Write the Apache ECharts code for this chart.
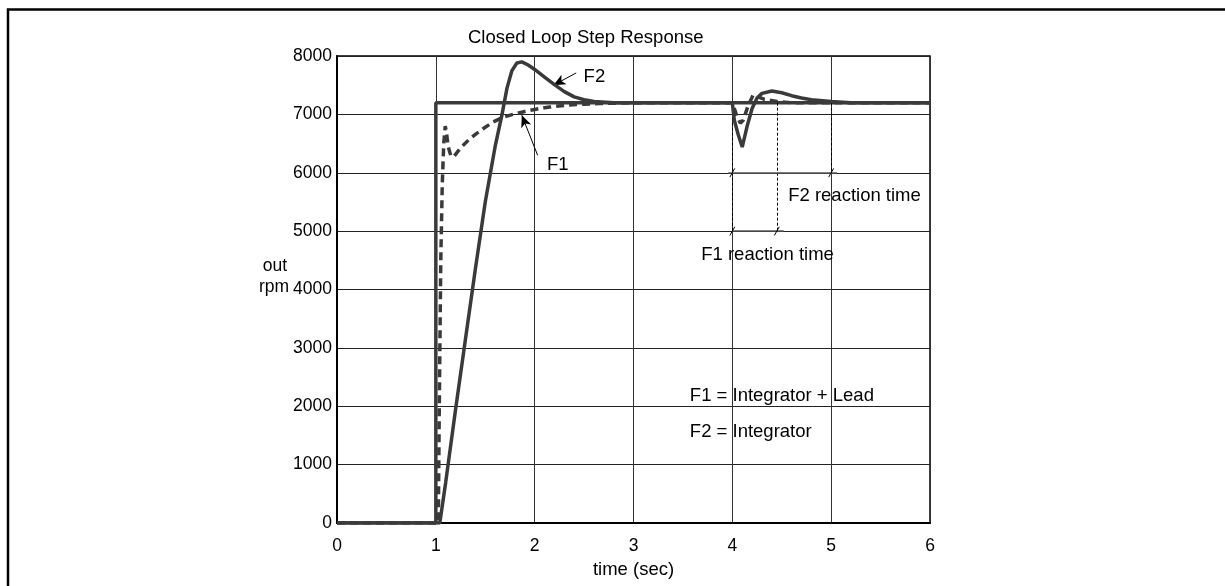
<!DOCTYPE html>
<html>
<head>
<meta charset="utf-8">
<script src="https://cdn.jsdelivr.net/npm/echarts@6/dist/echarts.min.js"></script>
<style>
  html, body {margin:0; padding:0; background:#fff;}
  #chart {width:1225px; height:586px;}
</style>
</head>
<body>
<div id="chart"></div>
<script>
// step command
const stepRef = [[0, 0], [1, 0], [1, 7200], [6, 7200]];
// F1 = Integrator + Lead (dashed)
const respF1 = [[0, 0], [1, 0], [1.025, 0], [1.035, 2000], [1.05, 4500], [1.065, 5800], [1.08, 6500], [1.095, 6800],
  [1.105, 6720], [1.125, 6450], [1.15, 6300], [1.18, 6270], [1.22, 6360], [1.26, 6440], [1.33, 6560], [1.41, 6670],
  [1.5, 6780], [1.58, 6870], [1.68, 6950], [1.78, 7000], [1.9, 7050], [2.0, 7085], [2.15, 7125], [2.33, 7158],
  [2.5, 7175], [2.66, 7186], [2.93, 7195], [3.2, 7200], [4.0, 7200], [4.04, 7000], [4.08, 6850], [4.11, 6900],
  [4.16, 7150], [4.21, 7330], [4.26, 7300], [4.32, 7260], [4.45, 7220], [4.6, 7200], [6, 7200]];
// F2 = Integrator (solid)
const respF2 = [[0, 0], [1, 0], [1.04, 0], [1.1, 700], [1.2, 1950], [1.3, 3150], [1.4, 4350], [1.5, 5500],
  [1.6, 6450], [1.67, 7000], [1.72, 7450], [1.77, 7750], [1.82, 7880], [1.87, 7900], [1.93, 7850], [2.0, 7770],
  [2.1, 7640], [2.2, 7510], [2.3, 7390], [2.4, 7300], [2.5, 7250], [2.6, 7220], [2.8, 7200], [4.0, 7200], [4.02, 6900],
  [4.06, 6650], [4.1, 6440], [4.15, 6800], [4.2, 7100], [4.25, 7280], [4.3, 7360], [4.4, 7400], [4.5, 7370],
  [4.6, 7320], [4.7, 7280], [4.8, 7250], [5.0, 7220], [5.2, 7200], [6, 7200]];

// annotations
const arrowF2 = [[2.42, 7710], [2.19, 7500]];
const arrowF1 = [[2.03, 6300], [1.87, 6985]];
const reactionV = [[[4, 7200], [4, 5000]], [[4.45, 7200], [4.45, 5000]], [[5, 7200], [5, 6000]]];
const reactionH = [[[3.96, 6000], [5.06, 6000]], [[4.0, 5000], [4.52, 5000]]];
const slashes = [[4, 6000], [5, 6000], [4, 5000], [4.45, 5000]];
const notes = [
  {text: 'F2', at: [2.49, 7640]},
  {text: 'F1', at: [2.12, 6130]},
  {text: 'F2 reaction time', at: [4.56, 5600]},
  {text: 'F1 reaction time', at: [3.68, 4600]},
  {text: 'F1 = Integrator + Lead', at: [3.565, 2175]},
  {text: 'F2 = Integrator', at: [3.565, 1553]}
];

const FONT = '"Liberation Sans", Arial, sans-serif';
const LINE = '#3a3a3a';

let markLines = [];
markLines.push([{coord: arrowF2[0]}, {coord: arrowF2[1], symbol: 'arrow', symbolSize: [8, 12]}]);
markLines.push([{coord: arrowF1[0]}, {coord: arrowF1[1], symbol: 'arrow', symbolSize: [8, 12]}]);
reactionV.forEach(p => markLines.push([
  {coord: p[0], lineStyle: {type: [3, 2], width: 1, color: '#000'}},
  {coord: p[1]}
]));
reactionH.forEach(p => markLines.push([
  {coord: p[0], lineStyle: {type: 'solid', width: 1.5, color: '#555'}},
  {coord: p[1]}
]));
slashes.forEach(s => markLines.push([
  {coord: [s[0] - 0.025, s[1] - 75], lineStyle: {type: 'solid', width: 1, color: '#000'}},
  {coord: [s[0] + 0.025, s[1] + 75]}
]));

const chart = echarts.init(document.getElementById('chart'));
chart.setOption({
  backgroundColor: '#fff',
  animation: false,
  textStyle: {fontFamily: FONT},
  title: {
    text: 'Closed Loop Step Response',
    left: 468, top: 28, padding: 0,
    textStyle: {fontSize: 18.5, fontWeight: 'normal', color: '#000', fontFamily: FONT}
  },
  grid: {left: 337, right: 295, top: 56, bottom: 63, show: true, borderColor: '#000', borderWidth: 1.5,
    outerBoundsMode: 'none', containLabel: false},
  xAxis: {
    type: 'value', min: 0, max: 6, interval: 1,
    name: 'time (sec)', nameLocation: 'middle', nameGap: 37,
    nameTextStyle: {fontSize: 18.5, color: '#000', fontFamily: FONT},
    axisLine: {show: true, lineStyle: {color: '#000', width: 2}},
    axisTick: {show: false},
    axisLabel: {fontSize: 17.5, color: '#000', margin: 14, fontFamily: FONT},
    splitLine: {show: true, lineStyle: {color: '#333', width: 1}}
  },
  yAxis: {
    type: 'value', min: 0, max: 8000, interval: 1000,
    axisLine: {show: true, lineStyle: {color: '#000', width: 2}},
    axisTick: {show: false},
    axisLabel: {fontSize: 17.5, color: '#000', margin: 5, padding: [6, 0, 0, 0], fontFamily: FONT,
      formatter: v => String(v)},
    splitLine: {show: true, lineStyle: {color: '#222', width: 1}}
  },
  graphic: [
    {type: 'rect', shape: {x: 8, y: 9.5, width: 1400, height: 800}, style: {fill: 'none', stroke: '#000', lineWidth: 2.5}, silent: true},
    {type: 'text', x: 275, y: 266, style: {text: 'out', fontSize: 17.5, fontFamily: FONT, fill: '#000', align: 'center', verticalAlign: 'middle'}},
    {type: 'text', x: 274, y: 287, style: {text: 'rpm', fontSize: 17.5, fontFamily: FONT, fill: '#000', align: 'center', verticalAlign: 'middle'}}
  ],
  series: [
    {
      name: 'step', type: 'line', data: stepRef, showSymbol: false, silent: true,
      lineStyle: {color: LINE, width: 3.5}, z: 3
    },
    {
      name: 'F1', type: 'line', data: respF1, showSymbol: false, silent: true,
      lineStyle: {color: LINE, width: 3.5, type: [8, 5]}, z: 4
    },
    {
      name: 'F2', type: 'line', data: respF2, showSymbol: false, silent: true,
      lineStyle: {color: LINE, width: 3.5}, z: 5
    },
    {
      name: 'notes', type: 'line', data: [], silent: true, z: 6,
      markLine: {
        silent: true, animation: false, symbol: ['none', 'none'],
        label: {show: false},
        lineStyle: {color: '#000', width: 1, type: 'solid'},
        emphasis: {disabled: true},
        data: markLines
      },
      markPoint: {
        silent: true, animation: false, symbol: 'circle', symbolSize: 1,
        itemStyle: {color: 'rgba(0,0,0,0)'},
        label: {show: true, position: 'right', distance: 0, color: '#000', fontSize: 18.5, fontFamily: FONT},
        data: notes.map(n => ({coord: n.at, value: n.text, label: {formatter: n.text}}))
      }
    }
  ]
});
</script>
</body>
</html>
